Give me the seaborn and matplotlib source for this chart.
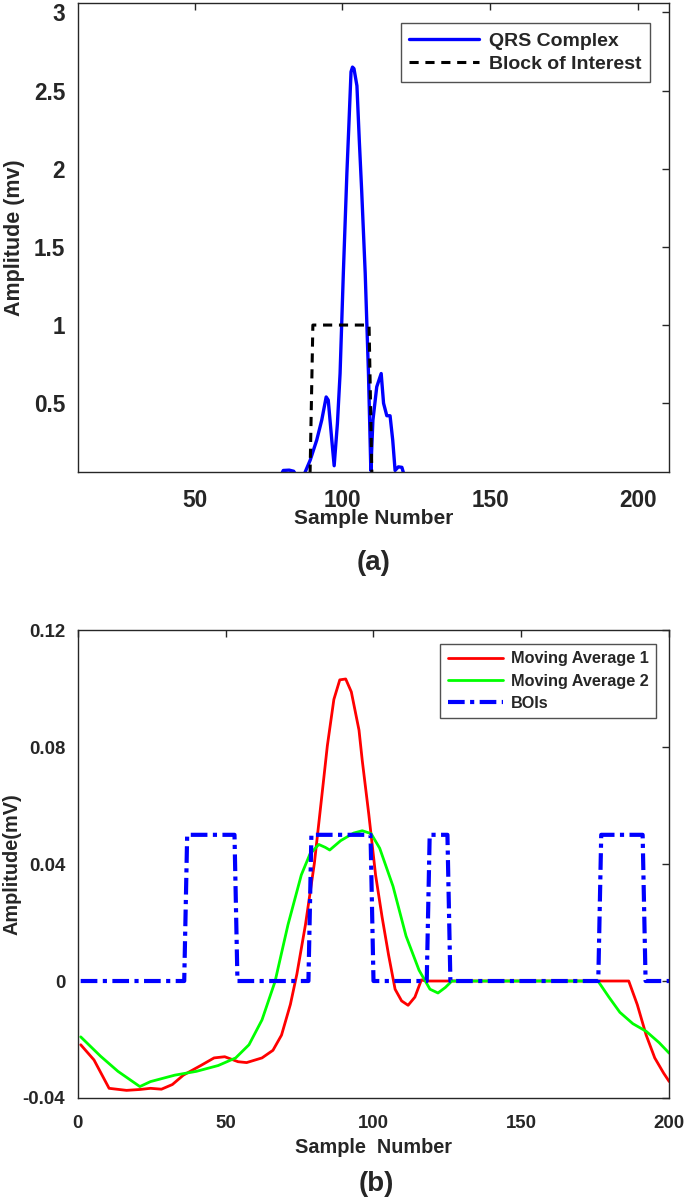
import matplotlib
matplotlib.use("Agg")
import matplotlib.pyplot as plt
import seaborn as sns

# (a) QRS complex and block of interest
QRS_X = [11, 78, 79.5, 80, 82, 83.5, 85, 86, 87.4, 89.1, 91.3, 93.0, 94.5, 95.2, 96.4,
         97.2, 98.3, 99.2, 100.3, 101.5, 102.2, 102.9, 103.4, 103.9, 104.9, 105.7,
         106.5, 107.7, 108.8, 109.6, 110.3, 111.6, 113.1, 113.9, 115.0, 116.1, 117.0,
         117.8, 118.9, 120.1, 121, 122, 210]
QRS_Y = [0, 0, 0.05, 0.07, 0.072, 0.065, 0.02, 0.0, 0.06, 0.136, 0.264, 0.392, 0.54,
         0.52, 0.264, 0.10, 0.37, 0.69, 1.33, 1.97, 2.29, 2.62, 2.65, 2.64, 2.53, 2.18,
         1.86, 1.33, 0.69, 0.07, 0.39, 0.605, 0.69, 0.50, 0.42, 0.42, 0.264, 0.07,
         0.093, 0.09, 0.03, 0, 0]
BLOCK_X = [11, 89, 90, 109, 110, 210]
BLOCK_Y = [0, 0, 1, 1, 0, 0]

# (b) moving averages and BOIs
MA1_X = [1, 5.5, 10.6, 16.5, 21, 24.6, 28.3, 32, 35.7, 41.6, 46.1, 49.7, 54.2, 57.1,
         62.3, 66.0, 68.9, 71.9, 74.1, 77.0, 80.0, 83.0, 84.4, 86.6, 88.6, 90.6, 92.5,
         95.1, 96.2, 98.4, 100.7, 102.9, 105.1, 107.3, 109.5, 111.7, 114.0, 116.2,
         117.6, 186.3, 189.2, 192.2, 195.1, 198.1, 200]
MA1_Y = [-0.0218, -0.027, -0.0367, -0.0374, -0.0371, -0.0367, -0.037, -0.0354,
         -0.0322, -0.0289, -0.0263, -0.0259, -0.0276, -0.0279, -0.0263, -0.0237,
         -0.0185, -0.008, 0.0024, 0.0193, 0.0402, 0.0676, 0.0805, 0.0963, 0.103,
         0.1033, 0.0989, 0.0858, 0.0754, 0.0571, 0.0363, 0.0219, 0.0089, -0.0028,
         -0.0068, -0.0083, -0.0055, 0.0004, 0.0, 0.0, -0.0081, -0.0185, -0.0263,
         -0.0315, -0.0344]
MA2_X = [1, 7.7, 13.6, 21.0, 24.6, 32.8, 40.1, 47.5, 53.4, 57.9, 62.3, 66.7, 71.1,
         75.6, 78.5, 81.5, 83.7, 85.2, 88.9, 93.3, 96.2, 99.2, 102.1, 106.6, 111.0,
         115.4, 119.1, 121.8, 124.3, 126.5, 175.9, 179.6, 183.3, 187.7, 192.2, 196.6,
         200]
MA2_Y = [-0.0191, -0.0257, -0.0309, -0.0361, -0.0344, -0.0322, -0.0309, -0.0289,
         -0.0263, -0.0218, -0.0133, -0.0002, 0.0193, 0.0363, 0.0434, 0.0467, 0.0457,
         0.0448, 0.048, 0.0506, 0.0514, 0.0504, 0.0454, 0.0324, 0.0154, 0.0037,
         -0.0028, -0.0041, -0.0022, 0.0, 0.0, -0.0055, -0.0107, -0.0146, -0.0172,
         -0.0211, -0.0247]
BOI_X = [1, 36, 37, 53, 54, 78, 79, 99, 100, 118, 119, 125, 126, 176, 177, 191, 192, 200]
BOI_Y = [0, 0, 0.05, 0.05, 0, 0, 0.05, 0.05, 0, 0, 0.05, 0.05, 0, 0, 0.05, 0.05, 0, 0]

SPINE = "#262626"


def style_axes(ax, tick_size):
    ''' matlab-ish box with inward ticks on all four sides '''
    for s in ax.spines.values():
        s.set_visible(True)
        s.set_color(SPINE)
        s.set_linewidth(1.0)
    ax.tick_params(direction="in", top=True, right=True, length=5, width=1,
                   color=SPINE, labelsize=tick_size, pad=9)
    ax.tick_params(axis="x", pad=12)
    for lab in ax.get_xticklabels() + ax.get_yticklabels():
        lab.set_fontweight("bold")


def boxed_legend(ax, size, hlen, spacing, anchor):
    leg = ax.legend(loc="upper right", fontsize=size, handlelength=hlen,
                    frameon=True, fancybox=False, borderpad=0.45,
                    labelspacing=spacing, handletextpad=0.5, borderaxespad=0,
                    bbox_to_anchor=anchor)
    leg.get_frame().set_edgecolor(SPINE)
    leg.get_frame().set_linewidth(1.0)
    for t in leg.get_texts():
        t.set_fontweight("bold")


def main():
    sns.set_style("white")
    plt.rcParams["font.family"] = ["Liberation Sans", "DejaVu Sans"]
    plt.rcParams["font.weight"] = "bold"
    plt.rcParams["axes.labelweight"] = "bold"

    fig = plt.figure(figsize=(6.85, 11.98), dpi=100)
    ax1 = fig.add_axes([0.1135, 0.606, 0.8635, 0.3915])
    ax2 = fig.add_axes([0.1135, 0.0835, 0.8635, 0.3905])

    # top panel
    sns.lineplot(x=QRS_X, y=QRS_Y, ax=ax1, color="blue", linewidth=2.4,
                 label="QRS Complex")
    sns.lineplot(x=BLOCK_X, y=BLOCK_Y, ax=ax1, color="black", linewidth=2.2,
                 linestyle=(0, (3, 2.2)), label="Block of Interest")
    ax1.set_xlim(10.5, 210.5)
    ax1.set_ylim(0.06, 3.06)
    ax1.set_xticks([50, 100, 150, 200])
    ax1.set_yticks([0.5, 1, 1.5, 2, 2.5, 3])
    ax1.set_yticklabels(["0.5", "1", "1.5", "2", "2.5", "3"])
    style_axes(ax1, 16.3)
    ax1.set_xlabel("Sample Number", fontsize=15, fontweight="bold", va="center")
    ax1.set_ylabel("Amplitude (mv)", fontsize=15.5, fontweight="bold", va="center")
    ax1.xaxis.set_label_coords(0.5, -0.100)
    ax1.yaxis.set_label_coords(-0.107, 0.5)
    boxed_legend(ax1, 14, 3.6, 0.3, (0.968, 0.957))

    # bottom panel
    sns.lineplot(x=MA1_X, y=MA1_Y, ax=ax2, color="red", linewidth=2.0,
                 label="Moving Average 1")
    sns.lineplot(x=MA2_X, y=MA2_Y, ax=ax2, color="#00ff00", linewidth=2.0,
                 label="Moving Average 2")
    sns.lineplot(x=BOI_X, y=BOI_Y, ax=ax2, color="blue", linewidth=3.0,
                 linestyle=(0, (4, 1.3, 1, 1.3)), label="BOIs")
    ax2.set_xlim(0, 200)
    ax2.set_ylim(-0.04, 0.12)
    ax2.set_xticks([0, 50, 100, 150, 200])
    ax2.set_yticks([-0.04, 0, 0.04, 0.08, 0.12])
    ax2.set_yticklabels(["-0.04", "0", "0.04", "0.08", "0.12"])
    style_axes(ax2, 13.4)
    ax2.set_xlabel("Sample  Number", fontsize=14.3, fontweight="bold", va="center")
    ax2.set_ylabel("Amplitude(mV)", fontsize=14.3, fontweight="bold", va="center")
    ax2.xaxis.set_label_coords(0.5, -0.105)
    ax2.yaxis.set_label_coords(-0.111, 0.5)
    boxed_legend(ax2, 11.7, 3.4, 0.44, (0.978, 0.970))

    fig.text(0.545, 0.530, "(a)", fontsize=20, fontweight="bold",
             ha="center", va="center")
    fig.text(0.549, 0.0115, "(b)", fontsize=20, fontweight="bold",
             ha="center", va="center")

    fig.savefig("out.png", dpi=100, facecolor="white")


if __name__ == "__main__":
    main()
